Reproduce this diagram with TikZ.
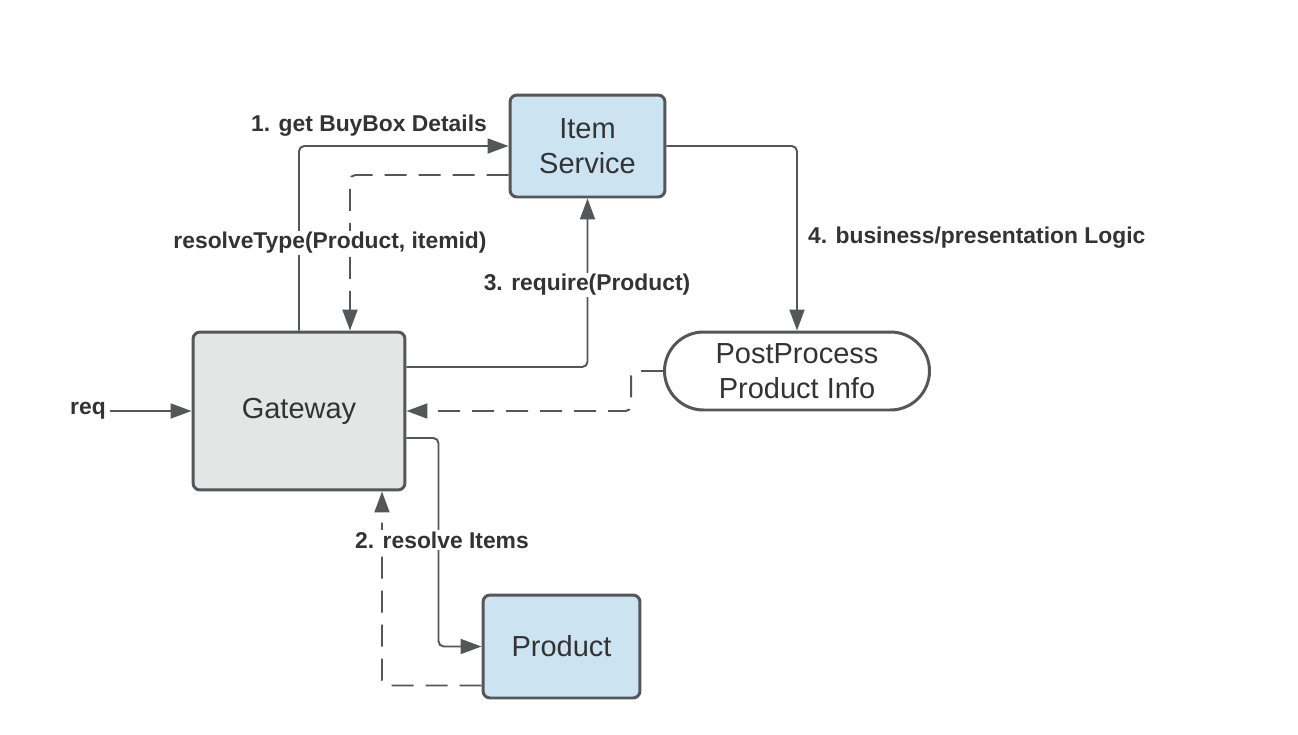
\documentclass[tikz,border=0pt]{standalone}
\usepackage{fontspec}
\setmainfont{Liberation Sans}
\usetikzlibrary{arrows.meta}
\definecolor{boxblue}{RGB}{204,228,242}
\definecolor{boxgray}{RGB}{228,229,229}
\definecolor{edge}{RGB}{84,86,88}
\definecolor{ink}{RGB}{51,51,51}
\begin{document}
\begin{tikzpicture}[x=0.02cm, y=-0.02cm,
    box/.style={draw=edge, line width=1.7pt, rounded corners=4pt, align=center,
        text=ink, font=\fontsize{16.5}{20}\selectfont},
    flow/.style={draw=edge, line width=1.1pt, rounded corners=3pt,
        -{Triangle[length=0.42cm, width=0.3cm]}},
    back/.style={flow, dash pattern=on 0.44cm off 0.24cm},
    lbl/.style={fill=white, inner sep=1pt, text=ink, font=\fontsize{13}{15}\selectfont\bfseries}]
    \useasboundingbox (0,0) rectangle (1298,734);

    \node[box, fill=boxblue, minimum width=3.1cm, minimum height=2.04cm] (item) at (587.5,146) {Item\\Service};
    \node[box, fill=boxgray, minimum width=4.24cm, minimum height=3.16cm] (gw) at (299,411) {Gateway};
    \node[box, fill=boxblue, minimum width=3.14cm, minimum height=2.06cm] (prod) at (561.5,646.5) {Product};
    \node[box, fill=white, rounded corners=0.78cm, minimum width=5.3cm, minimum height=1.56cm] (post) at (797,371) {PostProcess\\Product Info};
    \node[lbl, inner sep=2pt] (req) at (88,411) {req};

    \draw[flow] (req) -- (gw.west);
    \draw[flow] (gw.north) |- (item.west);
    \draw[back] ([yshift=-0.58cm]item.west) -| ([xshift=1.02cm]gw.north);
    \draw[flow] ([yshift=0.88cm]gw.east) -| (item.south);
    \draw[flow] (item.east) -| (post.north);
    \draw[back] (post.west) -- ++(-32,0) |- (gw.east);
    \draw[flow] ([yshift=-0.54cm]gw.east) -- ++(32,0) |- (prod.west);
    \draw[back] ([yshift=-0.78cm]prod.west) -| ([xshift=1.66cm]gw.south);

    \node[lbl] (l1) at (369,126) {1. get BuyBox Details};
    \node[lbl] (lres) at (330,243) {resolveType(Product, itemid)};
    \node[lbl] (l3) at (587,285) {3. require(Product)};
    \node[lbl, anchor=west] (l4) at (806,238) {4. business/presentation Logic};
    \node[lbl] (l2) at (442,540) {2. resolve Items};
\end{tikzpicture}
\end{document}
